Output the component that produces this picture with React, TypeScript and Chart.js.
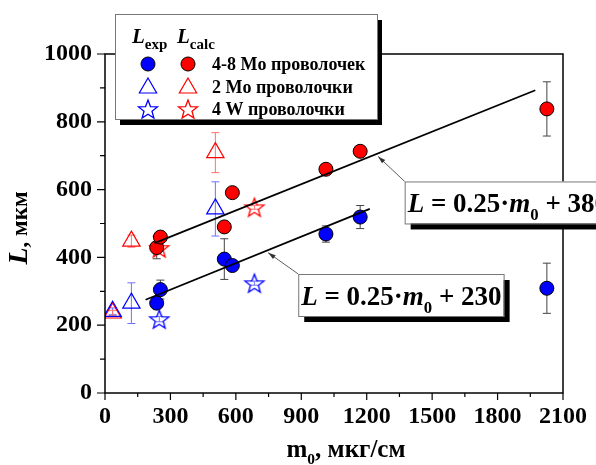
import React, { useEffect, useRef } from "react";
import { Chart, registerables } from "chart.js";
Chart.register(...registerables);

// ---------- data ----------
const expCircleX = [237, 254, 547, 584, 1013, 1170, 2026];
const expCircleY = [265, 305, 395, 376, 469, 519, 309];
const expCircleErr = [8, 28, 60, 10, 24, 34, 74];
const calcCircleX = [237, 254, 547, 584, 1013, 1170, 2026];
const calcCircleY = [429, 460, 490, 591, 660, 713, 838];
const calcCircleErr = [33, 12, 16, 8, 10, 10, 80];
const expTriX = [35, 121, 506];
const expTriY = [241, 265, 543];
const expTriErr = [10, 60, 80];
const calcTriX = [35, 121, 506];
const calcTriY = [236, 448, 709];
const calcTriErr = [8, 18, 59];
const expStarX = [249, 685];
const expStarY = [218, 324];
const expStarErr = [8, 6];
const calcStarX = [249, 685];
const calcStarY = [428, 548];
const calcStarErr = [6, 6];
const fitUpperX = [227, 1973];
const fitUpperY = [442, 893];
const fitLowerX = [186, 1214];
const fitLowerY = [275, 543];

const legendLabels = ["4-8 Mo проволочек", "2 Mo проволочки", "4 W проволочки"];
const eqIntercepts = ["380", "230"];
const eqSlope = "0.25";

const X_MIN = 0, X_MAX = 2100, X_STEP = 300;
const Y_MIN = 0, Y_MAX = 1000, Y_STEP = 200;

// annotation placement (data coordinates)
const eqBoxX = [1374, 886];
const eqBoxY = [624, 351];
const eqArrowX = [1252, 748];
const eqArrowY = [698, 414];

const FONT = "'Liberation Serif', 'Times New Roman', serif";
const BLUE = "#0000ff";
const RED = "#ff0000";

const pts = (xs: number[], ys: number[]) => xs.map((x, i) => ({ x, y: ys[i] }));

function makeStar(color: string, r: number) {
  const size = Math.ceil(r * 2 + 4);
  const c = document.createElement("canvas");
  c.width = size;
  c.height = size;
  const ctx = c.getContext("2d")!;
  ctx.translate(size / 2, size / 2 + 1);
  ctx.beginPath();
  for (let i = 0; i < 10; i++) {
    const rad = i % 2 === 0 ? r : r * 0.42;
    const a = -Math.PI / 2 + (i * Math.PI) / 5;
    ctx.lineTo(rad * Math.cos(a), rad * Math.sin(a));
  }
  ctx.closePath();
  ctx.strokeStyle = color;
  ctx.lineWidth = 1.3;
  ctx.stroke();
  return c;
}

type Seg = { t: string; italic?: boolean; sub?: boolean; size?: number };

function richWidth(ctx: CanvasRenderingContext2D, segs: Seg[], size: number) {
  let w = 0;
  for (const s of segs) {
    const sz = s.size ?? (s.sub ? size * 0.62 : size);
    ctx.font = `${s.italic ? "italic " : ""}bold ${sz}px ${FONT}`;
    w += ctx.measureText(s.t).width;
  }
  return w;
}

function drawRich(ctx: CanvasRenderingContext2D, segs: Seg[], x: number, y: number, size: number, align: "left" | "center" = "left") {
  const w = richWidth(ctx, segs, size);
  let cx = align === "center" ? x - w / 2 : x;
  ctx.textAlign = "left";
  ctx.textBaseline = "alphabetic";
  for (const s of segs) {
    const sz = s.size ?? (s.sub ? size * 0.62 : size);
    ctx.font = `${s.italic ? "italic " : ""}bold ${sz}px ${FONT}`;
    ctx.fillText(s.t, cx, y + (s.sub ? size * 0.28 : 0));
    cx += ctx.measureText(s.t).width;
  }
  return w;
}

export default function App() {
  const ref = useRef<HTMLCanvasElement>(null);
  useEffect(() => {
    const canvas = ref.current!;
    const starBlue = makeStar(BLUE, 10);
    const starRed = makeStar(RED, 10);

    const errSets = [
      { xs: expCircleX, ys: expCircleY, e: expCircleErr, c: "#444444" },
      { xs: calcCircleX, ys: calcCircleY, e: calcCircleErr, c: "#444444" },
      { xs: expTriX, ys: expTriY, e: expTriErr, c: "#7070ff" },
      { xs: calcTriX, ys: calcTriY, e: calcTriErr, c: "#ff7070" },
      { xs: expStarX, ys: expStarY, e: expStarErr, c: "#7070ff" },
      { xs: calcStarX, ys: calcStarY, e: calcStarErr, c: "#ff7070" },
    ];

    const plugin = {
      id: "custom",
      beforeDatasetsDraw(chart: any) {
        const ctx = chart.ctx as CanvasRenderingContext2D;
        const xs = chart.scales.x, ys = chart.scales.y;
        ctx.save();
        ctx.lineWidth = 1;
        for (const s of errSets) {
          ctx.strokeStyle = s.c;
          s.xs.forEach((xv, i) => {
            const px = xs.getPixelForValue(xv);
            const p1 = ys.getPixelForValue(s.ys[i] + s.e[i]);
            const p2 = ys.getPixelForValue(s.ys[i] - s.e[i]);
            ctx.beginPath();
            ctx.moveTo(px, p1); ctx.lineTo(px, p2);
            ctx.moveTo(px - 4, p1); ctx.lineTo(px + 4, p1);
            ctx.moveTo(px - 4, p2); ctx.lineTo(px + 4, p2);
            ctx.stroke();
          });
        }
        ctx.restore();
      },
      afterDraw(chart: any) {
        const ctx = chart.ctx as CanvasRenderingContext2D;
        const xs = chart.scales.x, ys = chart.scales.y;
        const a = chart.chartArea;
        ctx.save();
        // frame
        ctx.strokeStyle = "#000";
        ctx.lineWidth = 1.5;
        ctx.strokeRect(a.left, a.top, a.right - a.left, a.bottom - a.top);
        // ticks
        ctx.lineWidth = 1.2;
        ctx.beginPath();
        for (let v = X_MIN; v <= X_MAX + 1e-6; v += X_STEP / 2) {
          const px = xs.getPixelForValue(v);
          const major = Math.abs(v / X_STEP - Math.round(v / X_STEP)) < 1e-6;
          ctx.moveTo(px, a.bottom);
          ctx.lineTo(px, a.bottom + (major ? 7 : 4));
        }
        for (let v = Y_MIN; v <= Y_MAX + 1e-6; v += Y_STEP / 2) {
          const py = ys.getPixelForValue(v);
          const major = Math.abs(v / Y_STEP - Math.round(v / Y_STEP)) < 1e-6;
          ctx.moveTo(a.left, py);
          ctx.lineTo(a.left - (major ? 8 : 5), py);
        }
        ctx.stroke();

        // axis titles
        ctx.fillStyle = "#000";
        drawRich(ctx, [{ t: "m" }, { t: "0", sub: true }, { t: ", мкг/см" }], (a.left + a.right) / 2 + 12, 457, 25, "center");
        ctx.save();
        ctx.translate(27, 228);
        ctx.rotate(-Math.PI / 2);
        drawRich(ctx, [{ t: "L", italic: true, size: 28 }, { t: ", мкм", size: 23 }], 0, 0, 24, "center");
        ctx.restore();

        // equation boxes
        for (let i = 0; i < eqIntercepts.length; i++) {
          const segs: Seg[] = [
            { t: "L", italic: true },
            { t: " = " + eqSlope + "·" },
            { t: "m", italic: true },
            { t: "0", sub: true },
            { t: " + " + eqIntercepts[i] },
          ];
          const size = 27;
          const bx = xs.getPixelForValue(eqBoxX[i]);
          const by = ys.getPixelForValue(eqBoxY[i]);
          const w = richWidth(ctx, segs, size) + 5;
          const h = 42;
          // arrow
          const tx = xs.getPixelForValue(eqArrowX[i]);
          const ty = ys.getPixelForValue(eqArrowY[i]);
          ctx.strokeStyle = "#333";
          ctx.fillStyle = "#333";
          ctx.lineWidth = 0.8;
          ctx.beginPath();
          ctx.moveTo(bx, by);
          ctx.lineTo(tx, ty);
          ctx.stroke();
          const ang = Math.atan2(ty - by, tx - bx);
          ctx.beginPath();
          ctx.moveTo(tx, ty);
          ctx.lineTo(tx - 8 * Math.cos(ang - 0.3), ty - 8 * Math.sin(ang - 0.3));
          ctx.lineTo(tx - 8 * Math.cos(ang + 0.3), ty - 8 * Math.sin(ang + 0.3));
          ctx.closePath();
          ctx.fill();
          // shadow + box
          ctx.fillStyle = "#000";
          ctx.fillRect(bx + 6, by + 6, w, h);
          ctx.fillStyle = "#fff";
          ctx.fillRect(bx, by, w, h);
          ctx.strokeStyle = "#777";
          ctx.lineWidth = 1;
          ctx.strokeRect(bx + 0.5, by + 0.5, w, h);
          ctx.fillStyle = "#000";
          drawRich(ctx, segs, bx + 3, by + 31, size);
        }

        // legend
        const lx = 115, ly = 14, lw = 262, lh = 105;
        ctx.fillStyle = "#000";
        ctx.fillRect(lx + 5, ly + 6, lw, lh);
        ctx.fillStyle = "#fff";
        ctx.fillRect(lx, ly, lw, lh);
        ctx.strokeStyle = "#777";
        ctx.lineWidth = 1;
        ctx.strokeRect(lx + 0.5, ly + 0.5, lw, lh);
        ctx.fillStyle = "#000";
        drawRich(ctx, [{ t: "L", italic: true, size: 21 }, { t: "exp", size: 15, sub: true }], 132, 43, 20);
        drawRich(ctx, [{ t: "L", italic: true, size: 21 }, { t: "calc", size: 15, sub: true }], 177, 43, 20);
        const rows = [64, 87, 109];
        const cBlue = 148, cRed = 188;
        for (const [cx, col] of [[cBlue, BLUE], [cRed, RED]] as [number, string][]) {
          ctx.beginPath();
          ctx.arc(cx, rows[0], 7, 0, Math.PI * 2);
          ctx.fillStyle = col;
          ctx.fill();
          ctx.strokeStyle = "#000";
          ctx.lineWidth = 1;
          ctx.stroke();
          const r = 10, ty = rows[1] + 1;
          ctx.beginPath();
          ctx.moveTo(cx, ty - r);
          ctx.lineTo(cx + r * Math.sin(Math.PI / 3), ty + r / 2);
          ctx.lineTo(cx - r * Math.sin(Math.PI / 3), ty + r / 2);
          ctx.closePath();
          ctx.strokeStyle = col;
          ctx.lineWidth = 1.2;
          ctx.stroke();
        }
        ctx.drawImage(starBlue, cBlue - starBlue.width / 2, rows[2] - starBlue.height / 2);
        ctx.drawImage(starRed, cRed - starRed.width / 2, rows[2] - starRed.height / 2);
        ctx.fillStyle = "#000";
        ctx.font = `bold 18px ${FONT}`;
        ctx.textAlign = "left";
        ctx.textBaseline = "alphabetic";
        legendLabels.forEach((t, i) => ctx.fillText(t, 212, rows[i] + 6));
        ctx.restore();
      },
    };

    const circle = (col: string) => ({
      pointStyle: "circle",
      pointRadius: 7,
      pointBackgroundColor: col,
      pointBorderColor: "#000",
      pointBorderWidth: 1,
      showLine: false,
    });
    const tri = (col: string) => ({
      pointStyle: "triangle",
      pointRadius: 10,
      pointBackgroundColor: "rgba(0,0,0,0)",
      pointBorderColor: col,
      pointBorderWidth: 1.2,
      showLine: false,
    });
    const star = (img: HTMLCanvasElement) => ({
      pointStyle: img,
      pointRadius: 10,
      showLine: false,
    });

    const chart = new Chart(canvas, {
      type: "scatter",
      data: {
        datasets: [
          { data: pts(fitUpperX, fitUpperY), showLine: true, borderColor: "#000", borderWidth: 1.8, pointRadius: 0 } as any,
          { data: pts(fitLowerX, fitLowerY), showLine: true, borderColor: "#000", borderWidth: 1.8, pointRadius: 0 } as any,
          { data: pts(expCircleX, expCircleY), ...circle(BLUE) },
          { data: pts(calcCircleX, calcCircleY), ...circle(RED) },
          { data: pts(expTriX, expTriY), ...tri(BLUE) },
          { data: pts(calcTriX, calcTriY), ...tri(RED) },
          { data: pts(expStarX, expStarY), ...star(starBlue) },
          { data: pts(calcStarX, calcStarY), ...star(starRed) },
        ] as any,
      },
      options: {
        responsive: false,
        animation: false,
        layout: { padding: { top: 54, right: 28, left: 0, bottom: 0 } },
        plugins: { legend: { display: false }, tooltip: { enabled: false } },
        scales: {
          x: {
            type: "linear",
            min: X_MIN,
            max: X_MAX,
            grid: { display: false, drawTicks: false },
            border: { display: false },
            ticks: { stepSize: X_STEP, color: "#000", font: { family: FONT, size: 24, weight: "bold" }, padding: 9, maxRotation: 0, autoSkip: false, callback: (v: any) => String(v) },
            afterFit: (s: any) => { s.height = 72; },
          },
          y: {
            type: "linear",
            min: Y_MIN,
            max: Y_MAX,
            grid: { display: false, drawTicks: false },
            border: { display: false },
            ticks: { stepSize: Y_STEP, color: "#000", font: { family: FONT, size: 24, weight: "bold" }, padding: 13, autoSkip: false, callback: (v: any) => String(v) },
            afterFit: (s: any) => { s.width = 105; },
          },
        },
      } as any,
      plugins: [plugin],
    });
    return () => chart.destroy();
  }, []);
  return (
    <div style={{ position: "fixed", left: 0, top: 0, width: 596, height: 465, background: "#fff" }}>
      <canvas ref={ref} width={596} height={465} style={{ display: "block" }} />
    </div>
  );
}
